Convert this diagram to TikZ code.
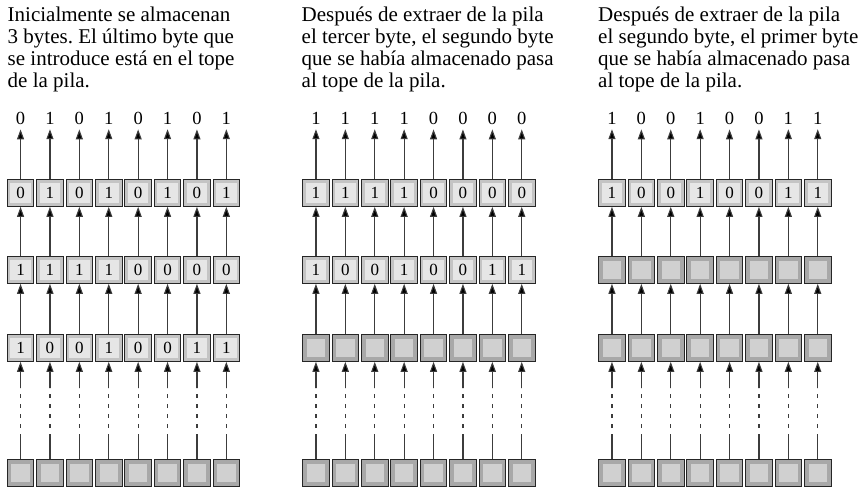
\documentclass[tikz,border=0pt]{standalone}
\usepackage{fontspec}
\setmainfont{Liberation Serif}
\usetikzlibrary{arrows.meta}

\definecolor{ringfull}{HTML}{C4C4C4}
\definecolor{corefull}{HTML}{E6E6E6}
\definecolor{ringblank}{HTML}{A8A8A8}
\definecolor{coreblank}{HTML}{D0D0D0}
\definecolor{wire}{HTML}{3C3C3C}

% one row of eight cells: name, left edge, row centre, bits
\newcommand{\byterow}[4]{%
  \foreach \b [count=\c] in {#4}
    \node[bit] (#1\c) at ({#2+13.25+(\c-1)*29.4},#3) {\b};}
% one row of eight empty cells: name, left edge, row centre
\newcommand{\blankrow}[3]{%
  \foreach \c in {1,...,8}
    \node[blank] (#1\c) at ({#2+13.25+(\c-1)*29.4},#3) {};}

\begin{document}
\frenchspacing
\begin{tikzpicture}[
    x=1pt, y=-1pt,
    cell/.style={draw=black!85, line width=1pt, minimum width=26.5pt, minimum height=26.7pt,
                 inner sep=0pt, font=\fontsize{17}{17}\selectfont},
    bit/.style={cell, fill=ringfull, path picture={\fill[corefull]
        ([shift={(3pt,-3pt)}]path picture bounding box.north west) rectangle
        ([shift={(-3pt,3pt)}]path picture bounding box.south east);}},
    blank/.style={cell, fill=ringblank, path picture={\fill[coreblank]
        ([shift={(4pt,-4pt)}]path picture bounding box.north west) rectangle
        ([shift={(-4pt,4pt)}]path picture bounding box.south east);}},
    outbit/.style={anchor=base, inner sep=0pt, font=\fontsize{18.5}{18.5}\selectfont},
    note/.style={anchor=north west, inner sep=0pt, align=left,
                 font=\fontsize{21}{22}\selectfont},
    flow/.style={draw=wire, line width=1.1pt},
    arrow/.style={flow, -{Triangle[length=10pt, width=7pt, fill=black]}}
]
\useasboundingbox (0,0) rectangle (863,488);

% captions
\node[note] (notea) at (7.5,6.5) {Inicialmente se almacenan\\3 bytes. El último byte que\\se introduce está en el tope\\de la pila.};
\node[note] (noteb) at (301.5,6.5) {Después de extraer de la pila\\el tercer byte, el segundo byte\\que se había almacenado pasa\\al tope de la pila.};
\node[note] (notec) at (598,6.5) {Después de extraer de la pila\\el segundo byte, el primer byte\\que se había almacenado pasa\\al tope de la pila.};

% first stack
\foreach \b [count=\c] in {0,1,0,1,0,1,0,1}
  \node[outbit] (aout\c) at ({7.3+13.25+(\c-1)*29.4},124) {\b};
\byterow{atop}{7.3}{193}{0,1,0,1,0,1,0,1}
\byterow{amid}{7.3}{270}{1,1,1,1,0,0,0,0}
\byterow{alow}{7.3}{348}{1,0,0,1,0,0,1,1}
\blankrow{abase}{7.3}{473}

% second stack
\foreach \b [count=\c] in {1,1,1,1,0,0,0,0}
  \node[outbit] (bout\c) at ({302.7+13.25+(\c-1)*29.4},124) {\b};
\byterow{btop}{302.7}{193}{1,1,1,1,0,0,0,0}
\byterow{bmid}{302.7}{270}{1,0,0,1,0,0,1,1}
\blankrow{blow}{302.7}{348}
\blankrow{bbase}{302.7}{473}

% third stack
\foreach \b [count=\c] in {1,0,0,1,0,0,1,1}
  \node[outbit] (cout\c) at ({598.7+13.25+(\c-1)*29.4},124) {\b};
\byterow{ctop}{598.7}{193}{1,0,0,1,0,0,1,1}
\blankrow{cmid}{598.7}{270}
\blankrow{clow}{598.7}{348}
\blankrow{cbase}{598.7}{473}

% connectors
\foreach \s in {a,b,c}
  \foreach \c in {1,...,8} {
    \draw[arrow, shorten >=5pt] (\s top\c.north) -- (\s out\c.south);
    \draw[arrow] (\s mid\c.north) -- (\s top\c.south);
    \draw[arrow] (\s low\c.north) -- (\s mid\c.south);
    \draw[flow] (\s base\c.north) -- ++(0,-25) coordinate (\s gapa\c);
    \draw[flow, dash pattern=on 4pt off 6pt, dash phase=4pt] (\s gapa\c) -- ++(0,-46) coordinate (\s gapb\c);
    \draw[arrow] (\s gapb\c) -- (\s low\c.south);
  }
\end{tikzpicture}
\end{document}
